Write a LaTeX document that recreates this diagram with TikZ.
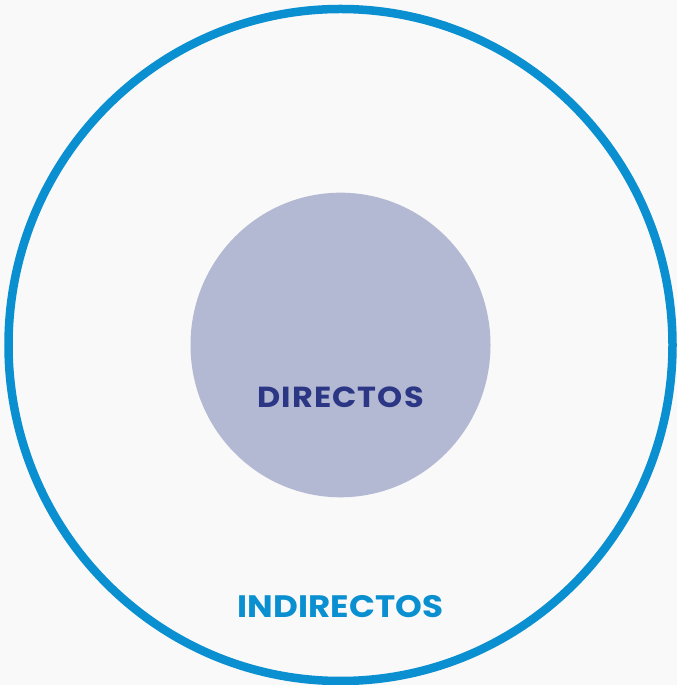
\documentclass[tikz,border=0pt]{standalone}
\usepackage{fontspec}
\setmainfont{Poppins}[FakeStretch=1.1]
\definecolor{ringblue}{RGB}{10,143,208}
\definecolor{coregray}{RGB}{179,185,211}
\definecolor{corenavy}{RGB}{43,54,132}
\definecolor{paper}{RGB}{249,249,249}
\begin{document}
\begin{tikzpicture}[x=1pt, y=1pt, every node/.style={inner sep=0pt, font=\bfseries}]
    \def \cx {340.5}
    \def \cy {340}
    \fill[paper] (0,0) rectangle (677,685);
    \useasboundingbox (0,0) rectangle (677,685);
    % outer ring and inner disc
    \draw[ringblue, line width=8.5] (\cx,\cy) ellipse [x radius=332, y radius=336];
    \fill[coregray] (\cx,\cy) ellipse [x radius=150, y radius=152.3];
    \node[corenavy, font=\bfseries\fontsize{29}{29}\selectfont\addfontfeature{LetterSpace=4}] (directos) at (\cx, 288) {DIRECTOS};
    \node[ringblue, font=\bfseries\fontsize{31}{31}\selectfont] (indirectos) at (\cx, 78) {INDIRECTOS};
\end{tikzpicture}
\end{document}
